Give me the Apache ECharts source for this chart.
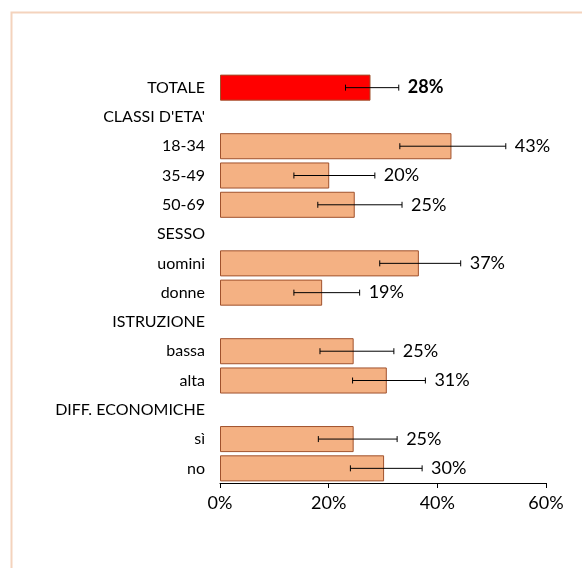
<!DOCTYPE html>
<html><head><meta charset="utf-8">
<script src="https://cdn.jsdelivr.net/npm/echarts@6/dist/echarts.min.js"></script>
<style>html,body{margin:0;padding:0;background:#fff}#c{width:582px;height:568px}</style>
</head><body><div id="c"></div>
<script>
var categories = ["TOTALE","CLASSI D'ETA'","18-34","35-49","50-69","SESSO","uomini","donne","ISTRUZIONE","bassa","alta","DIFF. ECONOMICHE","sì","no"];
var values = [27.7, null, 42.6, 20.1, 24.8, null, 36.6, 18.8, null, 24.6, 30.7, null, 24.6, 30.2];
var errLow = [23.1, null, 33.1, 13.6, 18.0, null, 29.4, 13.6, null, 18.4, 24.4, null, 18.1, 24.0];
var errHigh = [32.9, null, 52.6, 28.5, 33.5, null, 44.3, 25.7, null, 32.0, 37.8, null, 32.6, 37.2];
var valueLabels = ["28%", "", "43%", "20%", "25%", "", "37%", "19%", "", "25%", "31%", "", "25%", "30%"];
var tickValues = [0, 20, 40, 60];

var FONT = "Lato";
var barData = values.map(function (v, i) {
  if (v === null) return '-';
  if (i === 0) return { value: v, itemStyle: { color: '#FF0000' } };
  return v;
});
var errData = [];
values.forEach(function (v, i) {
  if (v !== null) errData.push([i, errLow[i], errHigh[i], valueLabels[i]]);
});

var chart = echarts.init(document.getElementById('c'));
chart.setOption({
  backgroundColor: '#ffffff',
  animation: false,
  graphic: [{
    type: 'rect', left: 9, top: 10, shape: { width: 620, height: 620 },
    style: { fill: 'none', stroke: '#F4D3BD', lineWidth: 2 }, silent: true
  }],
  grid: { left: 220, right: 36, top: 73, bottom: 85 },
  xAxis: {
    type: 'value', min: 0, max: 60, interval: 20,
    axisLine: { show: true, lineStyle: { color: '#000', width: 1 } },
    axisTick: { show: true, length: 5, lineStyle: { color: '#000' } },
    splitLine: { show: false },
    axisLabel: { formatter: function (v) { return v + '%'; }, color: '#000', fontFamily: FONT, fontSize: 18, margin: 11 }
  },
  yAxis: {
    type: 'category', data: categories, inverse: true,
    axisLine: { show: false }, axisTick: { show: false },
    axisLabel: { color: '#000', fontFamily: FONT, fontSize: 16, margin: 15 }
  },
  series: [{
    type: 'bar', data: barData, barCategoryGap: '11%',
    itemStyle: { color: '#F4B183', borderColor: '#A0522D', borderWidth: 1 }
  }, {
    type: 'custom', data: errData, encode: { x: [1, 2], y: 0 }, z: 5,
    renderItem: function (params, api) {
      var idx = api.value(0);
      var lo = api.coord([api.value(1), idx]);
      var hi = api.coord([api.value(2), idx]);
      var y = lo[1];
      var c = '#000';
      var label = errData[params.dataIndex][3];
      return {
        type: 'group', children: [
          { type: 'line', shape: { x1: lo[0], y1: y, x2: hi[0], y2: y }, style: { stroke: c, lineWidth: 1 } },
          { type: 'line', shape: { x1: lo[0], y1: y - 3, x2: lo[0], y2: y + 3 }, style: { stroke: c, lineWidth: 1 } },
          { type: 'line', shape: { x1: hi[0], y1: y - 3, x2: hi[0], y2: y + 3 }, style: { stroke: c, lineWidth: 1 } },
          { type: 'text', x: hi[0] + 9, y: y, style: { text: label, fill: '#000', fontFamily: FONT, fontSize: 18, fontWeight: idx === 0 ? 'bold' : 'normal', verticalAlign: 'middle', align: 'left' } }
        ]
      };
    }
  }]
});
</script></body></html>
